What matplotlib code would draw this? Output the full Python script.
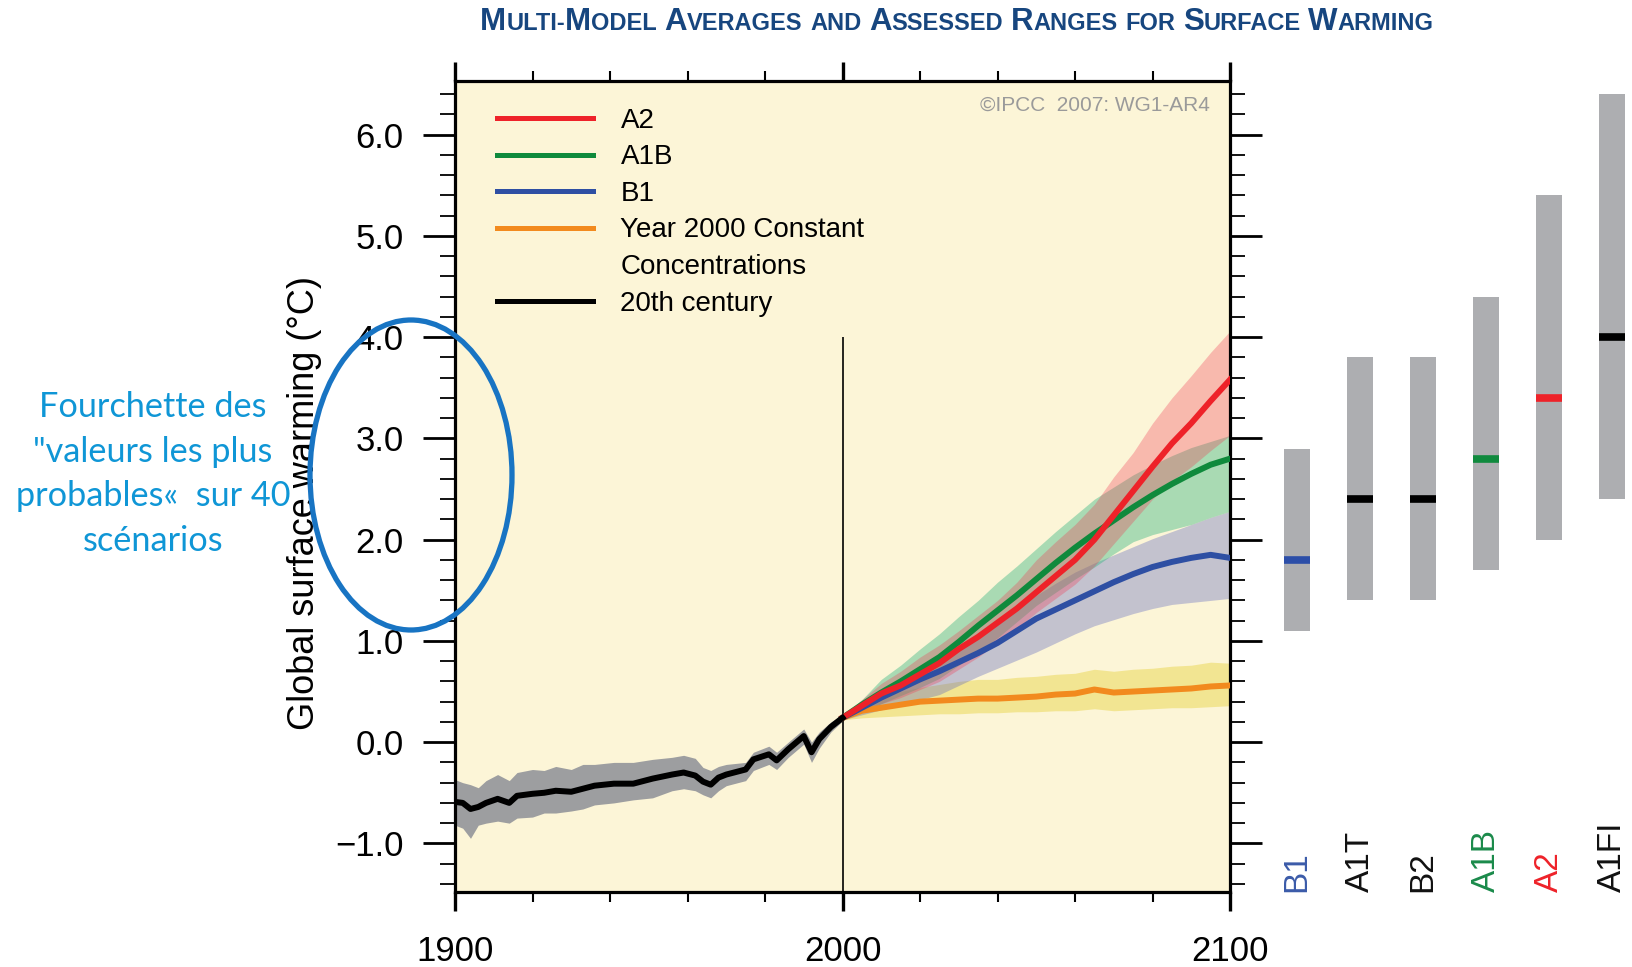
import matplotlib
matplotlib.use("Agg")
import matplotlib.pyplot as plt
from matplotlib.patches import Ellipse
from matplotlib.lines import Line2D
import numpy as np

plt.rcParams['font.family'] = ['Liberation Sans', 'DejaVu Sans']

# 20th century simulations (multi-model mean and range)
hist_years = [1900, 1902, 1904, 1906, 1908, 1911, 1914, 1916, 1920, 1923, 1926, 1930,
              1933, 1936, 1941, 1946, 1951, 1956, 1959, 1962, 1964, 1966, 1968, 1970,
              1975, 1977, 1981, 1983, 1986, 1990, 1992, 1994, 1997, 2000]
hist_mean = [-0.59, -0.60, -0.66, -0.64, -0.60, -0.56, -0.60, -0.53, -0.51, -0.50, -0.48, -0.49,
             -0.46, -0.43, -0.41, -0.41, -0.36, -0.32, -0.30, -0.33, -0.39, -0.42, -0.35, -0.32,
             -0.27, -0.17, -0.12, -0.18, -0.07, 0.06, -0.10, 0.03, 0.15, 0.24]
hist_hi = [-0.37, -0.40, -0.42, -0.45, -0.38, -0.32, -0.38, -0.30, -0.27, -0.28, -0.24, -0.27,
           -0.22, -0.22, -0.20, -0.20, -0.17, -0.15, -0.13, -0.16, -0.25, -0.28, -0.24, -0.22,
           -0.20, -0.10, -0.04, -0.10, 0.00, 0.13, 0.00, 0.10, 0.20, 0.27]
hist_lo = [-0.82, -0.85, -0.95, -0.82, -0.80, -0.78, -0.80, -0.75, -0.74, -0.70, -0.70, -0.68,
           -0.66, -0.62, -0.60, -0.57, -0.55, -0.48, -0.46, -0.48, -0.52, -0.55, -0.48, -0.43,
           -0.38, -0.28, -0.22, -0.27, -0.15, -0.02, -0.20, -0.06, 0.10, 0.21]

# 21st century scenarios, every 5 years 2000-2100
scen_years = list(range(2000, 2101, 5))
a2_mean = [0.24, 0.36, 0.48, 0.56, 0.67, 0.78, 0.92, 1.04, 1.18, 1.32, 1.48, 1.64, 1.80,
           2.00, 2.24, 2.48, 2.72, 2.95, 3.15, 3.37, 3.58]
a2_hi = [0.26, 0.42, 0.58, 0.70, 0.84, 0.96, 1.10, 1.25, 1.40, 1.58, 1.80, 1.98, 2.15,
         2.35, 2.62, 2.86, 3.15, 3.40, 3.62, 3.85, 4.06]
a2_lo = [0.22, 0.30, 0.38, 0.44, 0.52, 0.60, 0.72, 0.84, 0.98, 1.12, 1.28, 1.42, 1.56,
         1.74, 1.96, 2.18, 2.40, 2.58, 2.72, 2.88, 3.03]
a1b_mean = [0.24, 0.37, 0.49, 0.60, 0.72, 0.84, 0.99, 1.15, 1.30, 1.45, 1.61, 1.77, 1.92,
            2.06, 2.19, 2.32, 2.44, 2.55, 2.65, 2.74, 2.80]
a1b_hi = [0.26, 0.42, 0.62, 0.76, 0.92, 1.07, 1.24, 1.40, 1.58, 1.74, 1.91, 2.08, 2.24,
          2.40, 2.52, 2.64, 2.74, 2.83, 2.91, 2.97, 3.03]
a1b_lo = [0.22, 0.30, 0.38, 0.46, 0.54, 0.63, 0.76, 0.89, 1.03, 1.19, 1.35, 1.48, 1.61,
          1.73, 1.86, 1.98, 2.05, 2.10, 2.15, 2.22, 2.28]
b1_mean = [0.24, 0.34, 0.44, 0.53, 0.62, 0.70, 0.79, 0.88, 0.98, 1.10, 1.22, 1.31, 1.40,
           1.49, 1.58, 1.66, 1.73, 1.78, 1.82, 1.85, 1.82]
b1_hi = [0.26, 0.38, 0.50, 0.60, 0.70, 0.80, 0.93, 1.06, 1.19, 1.32, 1.45, 1.57, 1.68,
         1.77, 1.85, 1.93, 2.01, 2.08, 2.15, 2.22, 2.28]
b1_lo = [0.22, 0.27, 0.32, 0.37, 0.42, 0.47, 0.56, 0.65, 0.73, 0.81, 0.89, 0.98, 1.07,
         1.15, 1.21, 1.27, 1.32, 1.36, 1.38, 1.40, 1.42]
commit_mean = [0.24, 0.31, 0.34, 0.37, 0.40, 0.41, 0.42, 0.43, 0.43, 0.44, 0.45, 0.47, 0.48,
               0.52, 0.49, 0.50, 0.51, 0.52, 0.53, 0.55, 0.56]
commit_hi = [0.26, 0.40, 0.46, 0.50, 0.54, 0.57, 0.60, 0.62, 0.62, 0.64, 0.65, 0.67, 0.68,
             0.72, 0.70, 0.72, 0.73, 0.75, 0.76, 0.79, 0.78]
commit_lo = [0.22, 0.24, 0.25, 0.26, 0.27, 0.28, 0.28, 0.29, 0.29, 0.30, 0.30, 0.31, 0.31,
             0.33, 0.31, 0.32, 0.33, 0.34, 0.34, 0.35, 0.36]

# likely ranges and best estimates at 2090-2099 (right panel)
scen_names = ['B1', 'A1T', 'B2', 'A1B', 'A2', 'A1FI']
range_lo = [1.1, 1.4, 1.4, 1.7, 2.0, 2.4]
range_hi = [2.9, 3.8, 3.8, 4.4, 5.4, 6.4]
best_est = [1.8, 2.4, 2.4, 2.8, 3.4, 4.0]
name_colors = ['#3B5BA9', '#111111', '#111111', '#1A8A4A', '#EE2229', '#111111']
best_colors = ['#2C4EA8', '#000000', '#000000', '#108A3E', '#EE2229', '#000000']

y_ticks = [-1, 0, 1, 2, 3, 4, 5, 6]
y_ticklabels = ['\u22121.0', '0.0', '1.0', '2.0', '3.0', '4.0', '5.0', '6.0']
x_ticks = [1900, 2000, 2100]
split_year, split_top = 2000, 4.0
ylim = (-1.48, 6.53)

W, H = 1632, 967
fig = plt.figure(figsize=(W / 100, H / 100), dpi=100)
ax = fig.add_axes([455 / W, 75 / H, 775 / W, 811 / H])
ax.set_facecolor('#FCF5D7')

# bands
ax.fill_between(hist_years, hist_lo, hist_hi, color='#9D9E A0'.replace(' ', ''), lw=0, zorder=2)
ax.fill_between(scen_years, commit_lo, commit_hi, color='#E8D23E', alpha=0.45, lw=0, zorder=2)
ax.fill_between(scen_years, b1_lo, b1_hi, color='#5A63C0', alpha=0.35, lw=0, zorder=2)
ax.fill_between(scen_years, a1b_lo, a1b_hi, color='#2DB37D', alpha=0.40, lw=0, zorder=2)
ax.fill_between(scen_years, a2_lo, a2_hi, color='#F03C55', alpha=0.32, lw=0, zorder=2)

ax.vlines(split_year, ylim[0], split_top, color='black', lw=1.2, zorder=3)

lw = 4.3
ax.plot(scen_years, commit_mean, color='#F28A1E', lw=lw, zorder=4)
ax.plot(scen_years, b1_mean, color='#2E4FA3', lw=lw, zorder=4)
ax.plot(scen_years, a1b_mean, color='#0F8A3C', lw=lw, zorder=4)
ax.plot(scen_years, a2_mean, color='#EE2229', lw=lw, zorder=4)
ax.plot(hist_years, hist_mean, color='black', lw=lw, zorder=5)

ax.set_xlim(1900, 2100)
ax.set_ylim(*ylim)
ax.set_xticks(x_ticks)
ax.set_xticklabels([str(v) for v in x_ticks], fontsize=25)
ax.set_xticks(np.arange(1900, 2101, 20), minor=True)
ax.set_yticks(y_ticks)
ax.set_yticklabels(y_ticklabels, fontsize=25)
ax.set_yticks(np.arange(-1.4, 6.5, 0.2), minor=True)

ax.tick_params(axis='x', which='both', direction='out', top=True, bottom=True)
ax.tick_params(axis='x', which='major', length=14, width=2.4, pad=17)
ax.tick_params(axis='x', which='minor', length=7, width=1.5)
ax.tick_params(axis='y', which='both', direction='out', left=True, right=True)
ax.tick_params(axis='y', which='major', length=23, width=2.0, pad=14)
ax.tick_params(axis='y', which='minor', length=11, width=1.3)
for s in ax.spines.values():
    s.set_linewidth(2.3)

ax.set_ylabel('Global surface warming (\u00b0C)', fontsize=26, va='center')
ax.yaxis.set_label_coords(-150 / 775, 0.48)

ax.text(0.974, 0.970, '\u00a9IPCC  2007: WG1-AR4', transform=ax.transAxes,
        ha='right', va='center', fontsize=15, color='#9A9A9A')

# legend
handles = [Line2D([], [], color='#EE2229', lw=3.6),
           Line2D([], [], color='#0F8A3C', lw=3.6),
           Line2D([], [], color='#2E4FA3', lw=3.6),
           Line2D([], [], color='#F28A1E', lw=3.6),
           Line2D([], [], color='none', lw=0),
           Line2D([], [], color='black', lw=3.6)]
labels = ['A2', 'A1B', 'B1', 'Year 2000 Constant', 'Concentrations', '20th century']
ax.legend(handles, labels, loc='upper left', bbox_to_anchor=(0.054, 0.967),
          frameon=False, fontsize=20, handlelength=3.45, handletextpad=1.0,
          labelspacing=0.38, borderpad=0, borderaxespad=0)

# right panel with likely ranges
ax2 = fig.add_axes([1240 / W, 75 / H, 392 / W, 811 / H])
ax2.set_ylim(*ylim)
ax2.set_xlim(-0.905, -0.905 + 392 / 63)
ax2.axis('off')
pos = np.arange(len(scen_names))
bw = 0.41
ax2.bar(pos, np.array(range_hi) - np.array(range_lo), bottom=range_lo, width=bw,
        color='#ADAEB1', lw=0)
ax2.hlines(best_est, pos - bw / 2, pos + bw / 2, colors=best_colors, lw=5.5)
for p, name, c in zip(pos, scen_names, name_colors):
    ax2.text(p, 0.0, name, transform=ax2.get_xaxis_transform(), rotation=90,
             ha='center', va='bottom', fontsize=24, color=c)

# title in small caps
title = 'Multi-Model Averages and Assessed Ranges for Surface Warming'
renderer = fig.canvas.get_renderer()
big, small = 22.5, 17
runs = []
for wi, word in enumerate(title.split(' ')):
    if wi > 0:
        runs.append((None, small))
    for ch in word:
        size = big if ch.isupper() else small
        if runs and runs[-1][0] is not None and runs[-1][1] == size:
            runs[-1] = (runs[-1][0] + ch.upper(), size)
        else:
            runs.append((ch.upper(), size))
texts = []
total = 0
for s, size in runs:
    if s is None:
        texts.append((None, size * 0.32 * 100 / 72))
        total += size * 0.32 * 100 / 72
        continue
    t = fig.text(0, 1 - 21 / H, s, fontsize=size, fontweight='bold', color='#17467F',
                 family=['Liberation Sans Narrow', 'Liberation Sans'], va='baseline')
    w = t.get_window_extent(renderer).width
    texts.append((t, w))
    total += w
x = 957 - total / 2
for t, w in texts:
    if t is not None:
        t.set_x(x / W)
        t.set_y(1 - 30 / H)
    x += w

# annotation
fig.add_artist(Ellipse((411 / W, 1 - 475 / H), 202 / W, 310 / H, transform=fig.transFigure,
                       fill=False, edgecolor='#1874C3', lw=3.8, zorder=10))
fig.text(153 / W, 1 - 474 / H, 'Fourchette des\n"valeurs les plus\nprobables\u00ab  sur 40\nsc\u00e9narios',
         ha='center', va='center', fontsize=24.7, color='#0F96D6', family=['Lato', 'DejaVu Sans'],
         linespacing=1.48, zorder=10)

fig.savefig('out.png', dpi=100)
